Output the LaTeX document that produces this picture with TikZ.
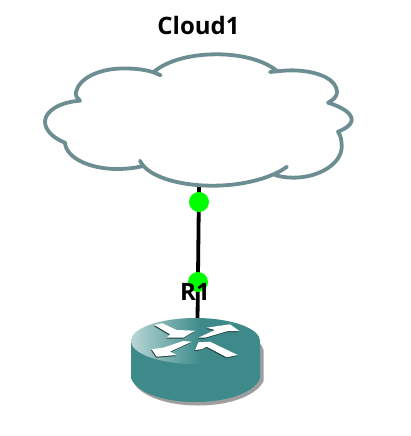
\documentclass[tikz,border=0pt]{standalone}
\usepackage{fontspec}
\usetikzlibrary{shapes.geometric}
\setmainfont{Open Sans}
\definecolor{cloudline}{HTML}{6C8E92}
\definecolor{teal1}{HTML}{3E8A8A}
\definecolor{teal2}{HTML}{B8D6D6}
\pgfdeclarehorizontalshading{routertop}{100bp}{color(0bp)=(teal2); color(25bp)=(teal2); color(52bp)=(teal1); color(100bp)=(teal1)}
\begin{document}
\begin{tikzpicture}[x=1pt,y=-1pt,
  link/.style={line width=3.8pt,black},
  port/.style={circle,fill=green,minimum size=20pt,inner sep=0pt},
  lbl/.style={font=\bfseries\fontsize{24}{26}\selectfont,inner sep=0pt,text=black},
  arrowfill/.style={fill=white},
  arrowshade/.style={fill=black!55!teal1},
]
\useasboundingbox (0,0) rectangle (411,436);
\fill[white] (0,0) rectangle (411,436);
\coordinate (cloudport) at (199,186);
\coordinate (routerport) at (197.5,320);
\draw[link] (cloudport) -- (routerport);
\node[port] (p1) at (199,202) {};
\node[port] (p2) at (198,282) {};
\node[lbl] (cloudlabel) at (198.5,26) {Cloud1};
\node[lbl] (r1label) at (195,292) {R1};
% cloud
\draw[cloudline,line width=3.8pt,line cap=round,line join=round]
 (160.7,75.3) .. controls (157,74) and (155,73) .. (154,71.7)
 .. controls (168,60) and (192,54.3) .. (216.7,54.3)
 .. controls (243,54.3) and (265,61) .. (277,71)
 (270,72) .. controls (280,71) and (288,70) .. (297,70.5)
 .. controls (322,72) and (337,81) .. (337,92)
 .. controls (337,97) and (333,100) .. (328,102.7)
 .. controls (342,107) and (351.7,113) .. (351.7,120)
 .. controls (351.7,125) and (345,129) .. (338,131.7)
 .. controls (341,136) and (341.7,141) .. (341.7,146.7)
 .. controls (341.7,163) and (320,177.7) .. (293,177.7)
 .. controls (286,177.7) and (280,176.5) .. (275,175)
 (287,166.7) .. controls (272,178) and (243,185.7) .. (213,185.7)
 .. controls (177,185.7) and (147,176) .. (140,160.7)
 (143,166) .. controls (135,168) and (126,169) .. (117,169)
 .. controls (90,169) and (66,158) .. (65,142.7)
 .. controls (53,138) and (45,130) .. (45,121.7)
 .. controls (45,111) and (60,102) .. (80,100.7)
 .. controls (77,98) and (75,95) .. (76,92)
 .. controls (79,78) and (100,68) .. (125,68.5)
 .. controls (138,68.5) and (150,70) .. (160.7,75.3);
% router
\fill[black!38] (134,352) -- (134,383) .. controls (140,395) and (165,405.5) .. (198,405.5)
  .. controls (231,405.5) and (257,395) .. (263.5,381) -- (263.5,350) .. controls (263,347) and (261,344) .. (258,342) -- cycle;
\fill[teal1] (131,342) -- (131,378) .. controls (136,392) and (162,402) .. (195.5,402)
  .. controls (229,402) and (255,392) .. (260,378) -- (260,342) -- cycle;
\node[ellipse,minimum width=129pt,minimum height=46pt,inner sep=0pt,shading=routertop] (router) at (195.5,341) {};
\foreach \sty/\dx/\dy in {arrowshade/-0.6/1,arrowfill/0/0}{
\begin{scope}[shift={(\dx,\dy)}]
\path[\sty] (154.3,325) -- (162.3,323.3) -- (176.7,330) -- (195,330.7) -- (183.3,337.7) -- (166.7,337.7) -- (170,334.3) -- cycle;
\path[\sty] (198.3,337.7) -- (215,330) -- (206.7,327.7) -- (230,324.3) -- (239.3,331) -- (228,331) -- (205,337.7) -- cycle;
\path[\sty] (151.7,349.3) -- (163.3,347.7) -- (183,341) -- (191.7,341.7) -- (170,351.7) -- (176.7,355) -- (156.7,356.7) -- cycle;
\path[\sty] (195,350) -- (198.3,342.3) -- (210,341.7) -- (237.7,355) -- (226.7,357.3) -- (206.7,346.7) -- (201.7,349.3) -- cycle;
\end{scope}}
\end{tikzpicture}
\end{document}
